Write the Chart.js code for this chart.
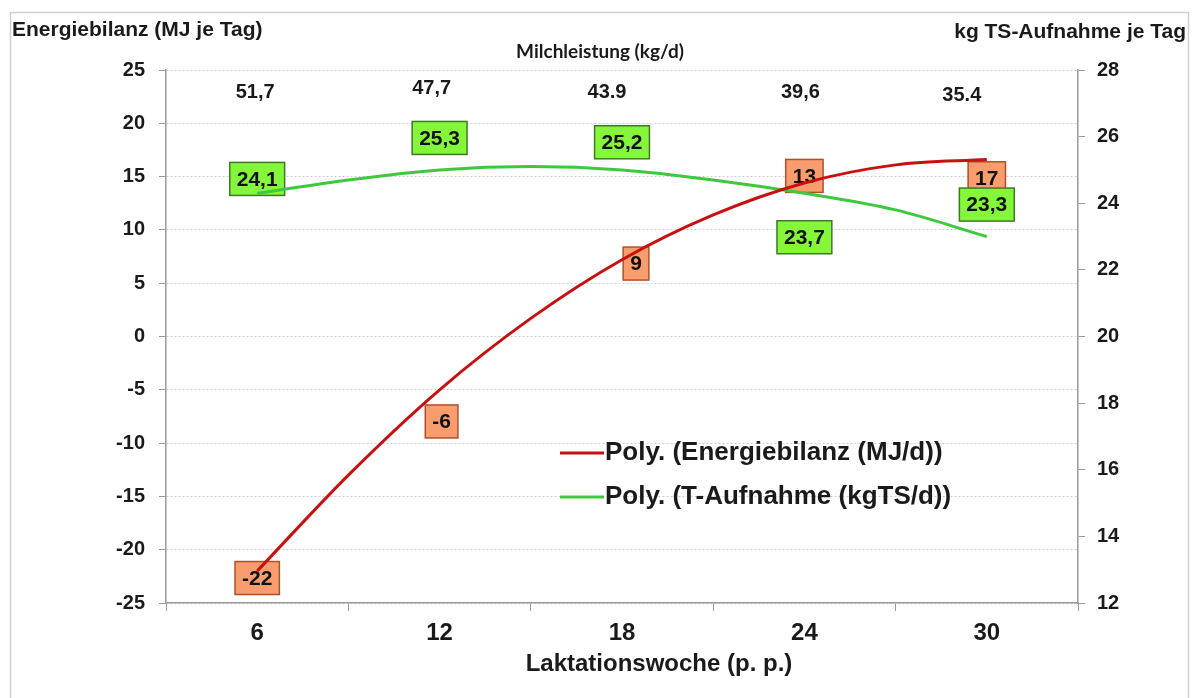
<!DOCTYPE html>
<html lang="de">
<head>
<meta charset="utf-8">
<title>Energiebilanz und TS-Aufnahme</title>
<script src="https://cdn.jsdelivr.net/npm/chart.js@4.4.1/dist/chart.umd.min.js"></script>
<style>
  html, body { margin: 0; padding: 0; background: #fff; }
  #wrap { width: 1192px; height: 698px; }
</style>
</head>
<body>
<div id="wrap"><canvas id="grafico" width="1192" height="698"></canvas></div>
<script>
// werte
const wochen = [6, 12, 18, 24, 30];
const wochenLabels = ["6", "12", "18", "24", "30"];
const milchleistung = ["51,7", "47,7", "43.9", "39,6", "35.4"];
const energiebilanz = [-22, -6, 9, 13, 17];
const energieTexte = ["-22", "-6", "9", "13", "17"];
const tsAufnahme = [24.1, 25.3, 25.2, 23.7, 23.3];
const tsTexte = ["24,1", "25,3", "25,2", "23,7", "23,3"];

// trendlinien (poly.) alle 3 wochen
const trendWochen = [6, 9, 12, 15, 18, 21, 24, 27, 30];
const trendEnergie = [-22.0, -13.0, -5.0, 1.7, 7.2, 11.4, 14.4, 16.1, 16.6];
const trendTS = [24.3, 24.7, 25.0, 25.1, 25.0, 24.7, 24.3, 23.8, 23.0];

const ticksLinks = [-25, -20, -15, -10, -5, 0, 5, 10, 15, 20, 25];
const ticksRechts = [12, 14, 16, 18, 20, 22, 24, 26, 28];

const FONT = '"Liberation Sans", Arial, sans-serif';
const TEXT = "#1a1a1a";
const ACHSE = "#9a9a9a";

function kasten(ctx, text, cx, cy, fill, stroke) {
  ctx.font = "bold 21px " + FONT;
  const w = ctx.measureText(text).width + 14;
  const h = 33;
  ctx.fillStyle = fill;
  ctx.fillRect(cx - w / 2, cy - h / 2, w, h);
  ctx.strokeStyle = stroke;
  ctx.lineWidth = 1.5;
  ctx.strokeRect(cx - w / 2, cy - h / 2, w, h);
  ctx.fillStyle = "#111";
  ctx.textAlign = "center";
  ctx.textBaseline = "middle";
  ctx.fillText(text, cx, cy + 1);
}

const extras = {
  id: "extras",
  beforeDraw(chart) {
    const ctx = chart.ctx;
    ctx.save();
    ctx.fillStyle = "#fff";
    ctx.fillRect(0, 0, chart.width, chart.height);
    ctx.strokeStyle = "#d0d0d0";
    ctx.lineWidth = 1.5;
    ctx.strokeRect(10.5, 12.5, 1178, 700);
    ctx.restore();
  },
  // kästen zuerst, die linien laufen im original darüber
  beforeDatasetsDraw(chart, args, opts) {
    const ctx = chart.ctx;
    const xs = chart.scales.xd;
    ctx.save();
    energiebilanz.forEach((v, i) => {
      const o = opts.energieOffset[i];
      kasten(ctx, energieTexte[i],
        xs.getPixelForValue(wochen[i]) + o[0],
        chart.scales.y.getPixelForValue(v) + o[1],
        "#f99d6e", "#b0502a");
    });
    tsAufnahme.forEach((v, i) => {
      const o = opts.tsOffset[i];
      kasten(ctx, tsTexte[i],
        xs.getPixelForValue(wochen[i]) + o[0],
        chart.scales.y1.getPixelForValue(v) + o[1],
        "#84f73a", "#3f7a22");
    });
    ctx.restore();
  },
  afterDraw(chart, args, opts) {
    const ctx = chart.ctx;
    const area = chart.chartArea;
    const xs = chart.scales.xd;
    ctx.save();
    ctx.fillStyle = TEXT;
    ctx.textBaseline = "middle";

    ctx.font = "bold 21px " + FONT;
    ctx.textAlign = "left";
    ctx.fillText("Energiebilanz (MJ je Tag)", 12, 30);
    ctx.textAlign = "right";
    ctx.fillText("kg TS-Aufnahme je Tag", 1186, 32);

    ctx.textAlign = "center";
    ctx.font = "bold 19px Lato, " + FONT;
    ctx.fillText("Milchleistung (kg/d)", 600, 52);

    // achsentitel sitzt im original etwas rechts der mitte
    ctx.font = "bold 24px " + FONT;
    ctx.fillText("Laktationswoche (p. p.)", 659, 664);

    // milchleistung steht oben im diagramm über jeder woche
    ctx.font = "bold 20px " + FONT;
    milchleistung.forEach((t, i) => {
      const o = opts.milchOffset[i];
      ctx.fillText(t, xs.getPixelForValue(wochen[i]) + o[0], area.top + o[1]);
    });

    // legende innerhalb der zeichenfläche
    ctx.font = "bold 26px " + FONT;
    ctx.textAlign = "left";
    chart.data.datasets.forEach((ds, i) => {
      const y = opts.legende.y + i * opts.legende.abstand;
      ctx.strokeStyle = ds.borderColor;
      ctx.lineWidth = 3;
      ctx.beginPath();
      ctx.moveTo(opts.legende.x, y);
      ctx.lineTo(opts.legende.x + 44, y);
      ctx.stroke();
      ctx.fillStyle = TEXT;
      ctx.fillText(ds.label, opts.legende.x + 45, y);
    });
    ctx.restore();
  }
};

const ctx = document.getElementById("grafico");
const chart = new Chart(ctx, {
  type: "line",
  data: {
    datasets: [
      {
        label: "Poly. (Energiebilanz (MJ/d))",
        data: trendWochen.map((w, i) => ({ x: w, y: trendEnergie[i] })),
        borderColor: "#c81010",
        borderWidth: 3,
        pointRadius: 0,
        cubicInterpolationMode: "monotone",
        xAxisID: "xd",
        yAxisID: "y",
      },
      {
        label: "Poly. (T-Aufnahme (kgTS/d))",
        data: trendWochen.map((w, i) => ({ x: w, y: trendTS[i] })),
        borderColor: "#3dc83d",
        borderWidth: 3,
        pointRadius: 0,
        cubicInterpolationMode: "monotone",
        xAxisID: "xd",
        yAxisID: "y1",
      },
    ],
  },
  options: {
    responsive: false,
    animation: false,
    devicePixelRatio: 1,
    layout: { padding: { top: 70, left: 0, right: 0, bottom: 0 } },
    plugins: {
      legend: { display: false },
      tooltip: { enabled: false },
      extras: {
        energieOffset: [[0, 7], [2, 21], [14, 23], [0, -22], [0, 23]],
        tsOffset: [[0, -21], [0, -22], [0, -21], [0, 24], [0, -22]],
        milchOffset: [[-2, 22], [-8, 18], [-15, 22], [-4, 22], [-25, 25]],
        legende: { x: 560, y: 453, abstand: 44 },
      },
    },
    scales: {
      x: {
        type: "category",
        labels: wochenLabels,
        position: "bottom",
        offset: true,
        grid: { display: true, drawOnChartArea: false, offset: true, tickLength: 8, color: ACHSE },
        border: { color: ACHSE, width: 1.5 },
        ticks: { font: { family: FONT, size: 24, weight: "bold" }, color: TEXT, padding: 8 },
        afterFit: (s) => { s.height = 95; },
      },
      // unsichtbare lineare achse für die trendpunkte (wochen 3..33 = kategorienbreite)
      xd: { type: "linear", axis: "x", min: 3, max: 33, display: false },
      y: {
        position: "left",
        min: -25,
        max: 25,
        afterBuildTicks: (s) => { s.ticks = ticksLinks.map((v) => ({ value: v })); },
        ticks: { font: { family: FONT, size: 20, weight: "bold" }, color: TEXT, padding: 14 },
        grid: { color: "#cdcdcd", tickLength: 7, tickColor: ACHSE, tickBorderDash: [] },
        border: { color: ACHSE, width: 1.5, dash: [2, 2] },
        afterFit: (s) => { s.width = 166; },
      },
      y1: {
        position: "right",
        min: 12,
        max: 28,
        afterBuildTicks: (s) => { s.ticks = ticksRechts.map((v) => ({ value: v })); },
        ticks: { font: { family: FONT, size: 20, weight: "bold" }, color: TEXT, padding: 12 },
        grid: { drawOnChartArea: false, tickLength: 7, color: ACHSE },
        border: { color: ACHSE, width: 1.5 },
        afterFit: (s) => { s.width = 114; },
      },
    },
  },
  plugins: [extras],
});
</script>
</body>
</html>
